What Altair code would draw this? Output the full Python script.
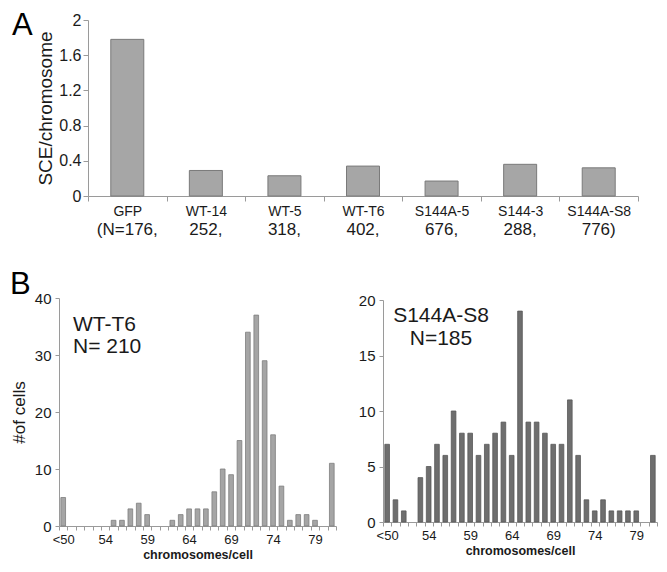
import altair as alt
import pandas as pd

# ---------------- data ----------------
groups = ["GFP", "WT-14", "WT-5", "WT-T6", "S144A-5", "S144-3", "S144A-S8"]
sce = [1.78, 0.29, 0.23, 0.34, 0.17, 0.36, 0.32]
n_labels = ["(N=176,", "252,", "318,", "402,", "676,", "288,", "776)"]

bins = ["<50"] + [str(i) for i in range(50, 81)] + [">80"]
wt_t6 = [5, 0, 0, 0, 0, 0, 1, 1, 3, 4, 2, 0, 0, 1, 2, 3, 3, 3, 6, 10, 9,
         15, 34, 37, 29, 16, 7, 1, 2, 2, 1, 0, 11]
s144a_s8 = [7, 2, 1, 0, 4, 5, 7, 6, 10, 8, 8, 6, 7, 8, 9, 6, 19, 9, 9, 8, 7,
            7, 11, 6, 2, 1, 2, 1, 1, 1, 1, 0, 6]
shown_bins = ["<50", "54", "59", "64", "69", "74", "79"]

FONT = "Liberation Sans"
TXT = "#1a1a1a"
AX = "#9a9a9a"

# ---------------- panel A ----------------
A_SHIFT = 29
A_W = 550
A_H = 176
dfA = pd.DataFrame({"group": groups, "sce": sce, "n": n_labels})

xA = alt.X("group:N", sort=groups,
           scale=alt.Scale(paddingInner=0, paddingOuter=0,
                           range=[A_SHIFT, A_SHIFT + A_W]),
           axis=alt.Axis(title=None, tickBand="extent", labelAngle=0,
                         labelFont=FONT, labelFontSize=14, labelColor=TXT,
                         labelPadding=3, tickSize=5, tickColor=AX,
                         domainColor=AX, labelOverlap=False))
yA = alt.Y("sce:Q", scale=alt.Scale(domain=[0, 2]),
           axis=alt.Axis(values=[0, 0.4, 0.8, 1.2, 1.6, 2], format="~g",
                         offset=-A_SHIFT,
                         title="SCE/chromosome", titleFont=FONT,
                         titleFontSize=19, titleFontWeight="normal",
                         titleColor=TXT, titlePadding=3,
                         labelFont=FONT, labelFontSize=16, labelColor=TXT,
                         labelPadding=2, tickSize=5, tickColor=AX,
                         domainColor=AX, grid=False))

barsA = alt.Chart(dfA).mark_bar(width={"band": 0.42}, fill="#a6a6a6",
                                stroke="#7a7a7a", strokeWidth=1).encode(x=xA, y=yA)
nA = alt.Chart(dfA).mark_text(font=FONT, fontSize=17, color=TXT,
                              baseline="middle").encode(
    x=alt.X("group:N", sort=groups), y=alt.value(A_H + 34), text="n:N")
letterA = alt.Chart(pd.DataFrame({"t": ["A"]})).mark_text(
    font=FONT, fontSize=31, color="#000", align="left",
    baseline="top").encode(x=alt.value(-47), y=alt.value(-9), text="t:N")

panelA = alt.layer(barsA, nA, letterA).properties(width=A_SHIFT + A_W,
                                                  height=A_H)

# ---------------- panel B ----------------
dfL = pd.DataFrame({"bin": bins, "count": wt_t6})
dfR = pd.DataFrame({"bin": bins, "count": s144a_s8})

label_expr = ("indexof(" + str(shown_bins).replace('"', "'") +
              ", datum.value) >= 0 ? datum.label : ''")


def xB():
    return alt.X("bin:N", sort=bins,
                 scale=alt.Scale(domain=bins, paddingInner=0, paddingOuter=0),
                 axis=alt.Axis(title="chromosomes/cell", titleFont=FONT,
                               titleFontSize=12.5, titleFontWeight="bold",
                               titleColor=TXT, titlePadding=2,
                               tickBand="extent", labelAngle=0,
                               labelExpr=label_expr, labelOverlap=False,
                               labelFont=FONT, labelFontSize=13,
                               labelColor=TXT, labelPadding=3, tickSize=4,
                               tickColor=AX, domainColor=AX))


def yB(values, title, rng=None):
    kw = dict(values=values, labelFont=FONT, labelFontSize=15,
              labelColor=TXT, labelPadding=4, tickSize=4, tickColor=AX,
              domainColor=AX, grid=False)
    if title:
        kw.update(title=title, titleFont=FONT, titleFontSize=17,
                  titleFontWeight="normal", titleColor=TXT, titlePadding=6)
    else:
        kw.update(title=None)
    sc = dict(domain=[0, values[-1]])
    if rng:
        sc["range"] = rng
    return alt.Y("count:Q", scale=alt.Scale(**sc), axis=alt.Axis(**kw))


L_H = 228
barsL = alt.Chart(dfL).transform_filter("datum.count > 0").mark_bar(
    width={"band": 0.56}, fill="#a5a5a5", stroke="#7d7d7d",
    strokeWidth=0.8).encode(x=xB(), y=yB([0, 10, 20, 30, 40], "#of cells"))
tL1 = alt.Chart(pd.DataFrame({"t": ["WT-T6"]})).mark_text(
    font=FONT, fontSize=21, color=TXT, align="left").encode(
    x=alt.value(14), y=alt.value(27), text="t:N")
tL2 = alt.Chart(pd.DataFrame({"t": ["N= 210"]})).mark_text(
    font=FONT, fontSize=21, color=TXT, align="left").encode(
    x=alt.value(14), y=alt.value(49), text="t:N")
letterB = alt.Chart(pd.DataFrame({"t": ["B"]})).mark_text(
    font=FONT, fontSize=31, color="#000", align="left",
    baseline="top").encode(x=alt.value(-49), y=alt.value(-28), text="t:N")
left = alt.layer(barsL, tL1, tL2, letterB).properties(width=277, height=L_H)

R_TOP = 2
R_H = 222
barsR = alt.Chart(dfR).transform_filter("datum.count > 0").mark_bar(
    width={"band": 0.56}, fill="#6e6e6e", stroke="#585858",
    strokeWidth=0.8).encode(
    x=xB(), y=yB([0, 5, 10, 15, 20], None, rng=[R_TOP + R_H, R_TOP]))
tR1 = alt.Chart(pd.DataFrame({"t": ["S144A-S8"]})).mark_text(
    font=FONT, fontSize=21, color=TXT, align="center").encode(
    x=alt.value(58), y=alt.value(R_TOP + 16), text="t:N")
tR2 = alt.Chart(pd.DataFrame({"t": ["N=185"]})).mark_text(
    font=FONT, fontSize=21, color=TXT, align="center").encode(
    x=alt.value(58), y=alt.value(R_TOP + 39), text="t:N")
right = alt.layer(barsR, tR1, tR2).properties(width=274, height=R_TOP + R_H)

panelB = alt.hconcat(left, right, spacing=47, bounds="flush")

chart = alt.vconcat(panelA, panelB, spacing=102, bounds="flush").properties(
    padding={"left": 2, "top": 2, "right": 0, "bottom": 0}
).configure(font=FONT).configure_view(stroke=None)

chart.save("out.html", embed_options={"renderer": "svg", "actions": False})
